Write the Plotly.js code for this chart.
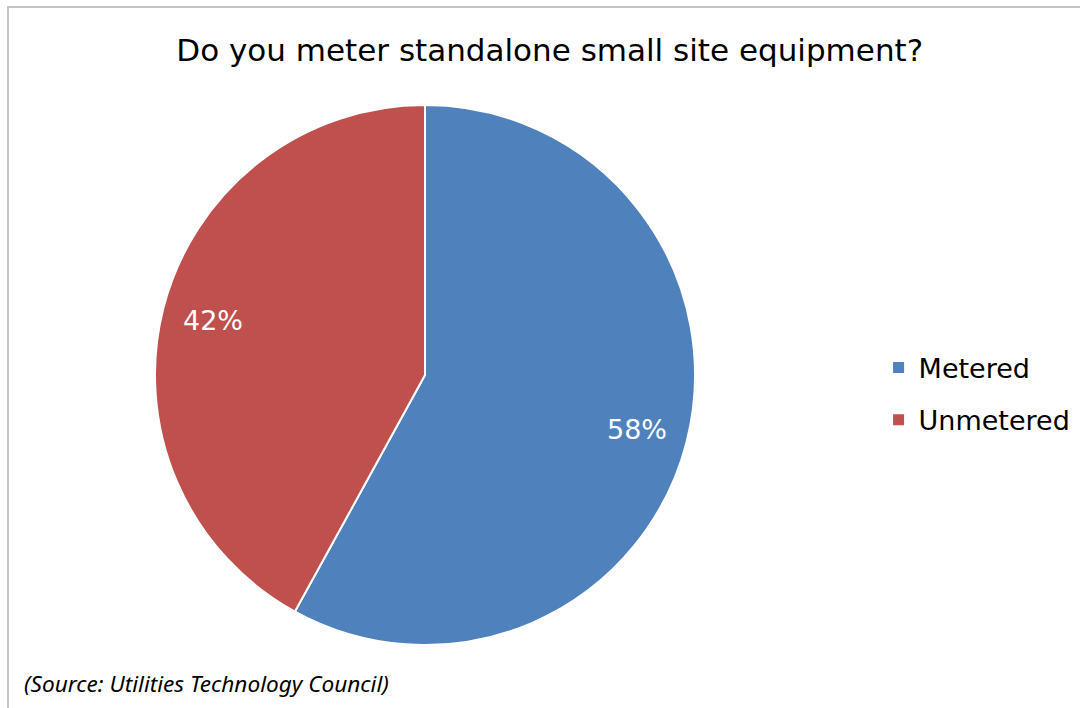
<!DOCTYPE html>
<html>
<head>
<meta charset="utf-8">
<script src="https://cdn.plot.ly/plotly-3.0.1.min.js"></script>
<style>
  html, body { margin: 0; padding: 0; background: #ffffff; }
  #wrap { position: relative; width: 1080px; height: 708px; overflow: hidden; }
  #chart { width: 1080px; height: 708px; }
  #frame { position: absolute; left: 7px; top: 6px; width: 1200px; height: 800px;
           border-top: 2px solid #c4c4c4; border-left: 2px solid #c4c4c4; pointer-events: none; }
</style>
</head>
<body>
<div id="wrap">
  <div id="chart"></div>
  <div id="frame"></div>
</div>
<script>
const categories = ["Metered", "Unmetered"];
const values = [58, 42];
const colors = ["#4F81BD", "#C0504D"];
const titleText = "Do you meter standalone small site equipment?";
const sourceText = "(Source: Utilities Technology Council)";

const pieTrace = {
  type: "pie",
  labels: categories,
  values: values,
  sort: false,
  direction: "clockwise",
  rotation: 0,
  marker: { colors: colors, line: { color: "#ffffff", width: 2 } },
  textinfo: "none",
  hoverinfo: "label+percent",
  showlegend: false
};

// percent labels placed along each slice's mid-angle (derived from the values)
const total = values.reduce((a, b) => a + b, 0);
const labelRadius = 0.81;
let cum = 0;
const labelAnnotations = values.map((v) => {
  const mid = (cum + v / 2) / total * 2 * Math.PI;
  cum += v;
  return {
    text: Math.round(v / total * 100) + "%",
    xref: "paper", yref: "paper",
    x: 0.5 + 0.5 * labelRadius * Math.sin(mid),
    y: 0.5 + 0.5 * labelRadius * Math.cos(mid),
    xanchor: "center", yanchor: "middle",
    showarrow: false,
    font: { family: "DejaVu Sans", size: 27, color: "#ffffff" }
  };
});

// legend entries (one group per category so spacing can match)
const legendTraces = categories.map((c, i) => ({
  type: "scatter",
  mode: "markers",
  x: [null], y: [null],
  name: c,
  legendgroup: "g" + i,
  marker: { symbol: "square", size: 11, color: colors[i] },
  hoverinfo: "skip",
  showlegend: true
}));

const layout = {
  width: 1080,
  height: 708,
  margin: { l: 155, r: 385, t: 105, b: 63 },
  paper_bgcolor: "#ffffff",
  plot_bgcolor: "rgba(0,0,0,0)",
  title: {
    text: titleText,
    font: { family: "DejaVu Sans", size: 31, color: "#000000" },
    x: 0.509, xanchor: "center",
    y: 0.929, yanchor: "middle"
  },
  xaxis: { visible: false, showgrid: false, zeroline: false },
  yaxis: { visible: false, showgrid: false, zeroline: false },
  showlegend: true,
  legend: {
    xref: "container", yref: "container",
    x: 0.8135, xanchor: "left",
    y: 0.4435, yanchor: "middle",
    traceorder: "grouped",
    tracegroupgap: 14,
    font: { family: "DejaVu Sans", size: 27, color: "#000000" },
    bgcolor: "rgba(0,0,0,0)"
  },
  annotations: labelAnnotations.concat([{
    text: "<i>" + sourceText + "</i>",
    xref: "paper", yref: "paper",
    x: -0.246, xanchor: "left",
    y: -0.0704, yanchor: "middle",
    showarrow: false,
    font: { family: "Noto Sans", size: 22.6, color: "#000000" }
  }])
};

Plotly.newPlot("chart", [pieTrace].concat(legendTraces), layout, { displayModeBar: false, staticPlot: true });
</script>
</body>
</html>
